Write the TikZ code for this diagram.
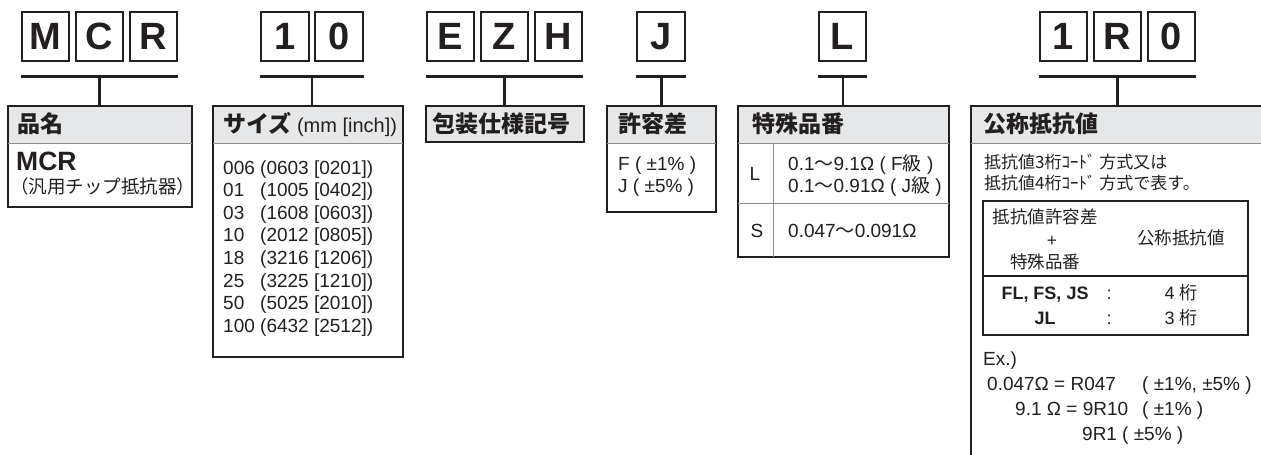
\documentclass[tikz,border=0pt]{standalone}
\usepackage{fontspec}
\setmainfont{Liberation Sans}
\newfontfamily\jp{Noto Sans CJK JP}
\usetikzlibrary{positioning}
\definecolor{inkline}{HTML}{231F20}
\definecolor{headgray}{HTML}{E6E7E8}
\definecolor{rulegray}{HTML}{8C8C8C}
\newcommand{\szcode}[1]{\makebox[37pt][l]{#1}}

\begin{document}
\begin{tikzpicture}[x=1pt, y=-1pt,
  letterbox/.style={draw=inkline, line width=2.2pt, minimum width=47.3pt, minimum height=48.8pt, inner sep=0pt, font=\fontsize{38}{38}\selectfont\bfseries, text=inkline},
  frame/.style={draw=inkline, line width=2.7pt, outer sep=0pt, inner sep=0pt, anchor=north west},
  headbar/.style={fill=headgray, outer sep=0pt, inner sep=0pt, minimum height=37pt, anchor=north west},
  barline/.style={inkline, line width=3pt},
  stemline/.style={inkline, line width=2.2pt},
  thinrule/.style={rulegray, line width=1pt},
  tabline/.style={draw=inkline, line width=1.2pt, outer sep=0pt, inner sep=0pt, anchor=north west},
  headtext/.style={font=\jp\bfseries\fontsize{23}{23}\selectfont, text=inkline, inner sep=0pt, anchor=base west},
  bodytext/.style={font=\fontsize{19}{19}\selectfont, text=inkline, inner sep=0pt, anchor=base west},
  smalljp/.style={font=\jp\fontsize{17.5}{17.5}\selectfont, text=inkline, inner sep=0pt, anchor=base}]
\useasboundingbox (0,0) rectangle (1261,455);
\clip (0,0) rectangle (1261,455);

% 品名
\node[letterbox] (lm) at (45.5,36.5) {M};
\node[letterbox, right=4.5pt of lm] (lc) {C};
\node[letterbox, right=4.5pt of lc] (lr) {R};
\coordinate (tp1) at (99.5,76);
\node[headbar, minimum width=184pt] (hd1) at (8,106) {};
\node[frame, minimum width=184pt, minimum height=101pt] (bx1) at (8,106) {};
\draw[thinrule] (hd1.south west) -- (hd1.south east);
\draw[barline] (lm.west |- tp1) -- (lr.east |- tp1);
\draw[stemline] (tp1) -- (tp1 |- bx1.north);
\node[headtext] (n1) at (17,132.5) {品名};
\node[bodytext, font=\fontsize{26.5}{26.5}\selectfont\bfseries] (mcr) at (16,170.5) {MCR};
\node[bodytext, font=\jp\fontsize{18.5}{18.5}\selectfont] (mcrjp) at (10,193) {（汎用チップ抵抗器）};

% サイズ
\node[letterbox] (l1a) at (285,36.5) {1};
\node[letterbox, right=4.5pt of l1a] (l0a) {0};
\coordinate (tp2) at (312,76);
\node[headbar, minimum width=190pt] (hd2) at (213,106) {};
\node[frame, minimum width=190pt, minimum height=251pt] (bx2) at (213,106) {};
\draw[thinrule] (hd2.south west) -- (hd2.south east);
\draw[barline] (l1a.west |- tp2) -- (l0a.east |- tp2);
\draw[stemline] (tp2) -- (tp2 |- bx2.north);
\node[headtext] (n2) at (223,132.5) {サイズ{\normalfont\fontsize{20}{20}\selectfont\ (mm [inch])}};
\node[bodytext] (sz1) at (223,174) {\szcode{006}(0603 [0201])};
\node[bodytext] (sz2) at (223,196.6) {\szcode{01}(1005 [0402])};
\node[bodytext] (sz3) at (223,219.2) {\szcode{03}(1608 [0603])};
\node[bodytext] (sz4) at (223,241.8) {\szcode{10}(2012 [0805])};
\node[bodytext] (sz5) at (223,264.4) {\szcode{18}(3216 [1206])};
\node[bodytext] (sz6) at (223,287) {\szcode{25}(3225 [1210])};
\node[bodytext] (sz7) at (223,309.6) {\szcode{50}(5025 [2010])};
\node[bodytext] (sz8) at (223,332.2) {\szcode{100}(6432 [2512])};

% 包装仕様記号
\node[letterbox] (le) at (450.5,36.5) {E};
\node[letterbox, right=4.5pt of le] (lz) {Z};
\node[letterbox, right=4.5pt of lz] (lh) {H};
\coordinate (tp3) at (504.5,76);
\node[headbar, minimum width=158pt, minimum height=36pt] (hd3) at (426,106) {};
\node[frame, minimum width=158pt, minimum height=36pt] (bx3) at (426,106) {};
\draw[barline] (le.west |- tp3) -- (lh.east |- tp3);
\draw[stemline] (tp3) -- (tp3 |- bx3.north);
\node[headtext] (n3) at (432,132.5) {包装仕様記号};

% 許容差
\node[letterbox] (lj) at (661,36.5) {J};
\coordinate (tp4) at (661.5,76);
\node[headbar, minimum width=109pt] (hd4) at (607,106) {};
\node[frame, minimum width=109pt, minimum height=106pt] (bx4) at (607,106) {};
\draw[thinrule] (hd4.south west) -- (hd4.south east);
\draw[barline] (lj.west |- tp4) -- (lj.east |- tp4);
\draw[stemline] (tp4) -- (tp4 |- bx4.north);
\node[headtext] (n4) at (618,132.5) {許容差};
\node[bodytext] (tolf) at (618,170) {F ( ±1\% )};
\node[bodytext] (tolj) at (618,192) {J ( ±5\% )};

% 特殊品番
\node[letterbox] (ll) at (842.5,36.5) {L};
\coordinate (tp5) at (843,76);
\node[headbar, minimum width=211pt] (hd5) at (738,106) {};
\node[frame, minimum width=211pt, minimum height=151pt] (bx5) at (738,106) {};
\draw[thinrule] (hd5.south west) -- (hd5.south east);
\coordinate (dv) at (773,203);
\draw[thinrule] (dv |- hd5.south) -- (dv |- bx5.south);
\draw[thinrule] (dv -| bx5.west) -- (dv -| bx5.east);
\draw[barline] (ll.west |- tp5) -- (ll.east |- tp5);
\draw[stemline] (tp5) -- (tp5 |- bx5.north);
\node[headtext] (n5) at (752,132.5) {特殊品番};
\node[bodytext, anchor=base] (spl) at (755,180) {L};
\node[bodytext, anchor=base] (sps) at (757,237) {S};
\node[bodytext] (splf) at (788,170) {0.1{\jp 〜}9.1Ω ( F{\jp 級} )};
\node[bodytext] (splj) at (788,192) {0.1{\jp 〜}0.91Ω ( J{\jp 級} )};
\node[bodytext] (spsv) at (788,237) {0.047{\jp 〜}0.091Ω};

% 公称抵抗値
\node[letterbox] (l1b) at (1063.5,36.5) {1};
\node[letterbox, right=4.5pt of l1b] (lrb) {R};
\node[letterbox, right=4.5pt of lrb] (l0b) {0};
\coordinate (tp6) at (1117.5,76);
\node[headbar, minimum width=320pt] (hd6) at (971,106) {};
\node[frame, minimum width=320pt, minimum height=374pt] (bx6) at (971,106) {};
\draw[thinrule] (hd6.south west) -- (hd6.south east);
\draw[barline] (l1b.west |- tp6) -- (l0b.east |- tp6);
\draw[stemline] (tp6) -- (tp6 |- bx6.north);
\node[headtext] (n6) at (983,132.5) {公称抵抗値};
\node[bodytext, font=\jp\fontsize{17}{17}\selectfont] (rv1) at (984,168.3) {抵抗値3桁ｺｰﾄﾞ 方式又は};
\node[bodytext, font=\jp\fontsize{17}{17}\selectfont] (rv2) at (984,189.3) {抵抗値4桁ｺｰﾄﾞ 方式で表す。};
\node[tabline, minimum width=265pt, minimum height=134pt] (tbl) at (983,201) {};
\coordinate (tsep) at (983,276);
\draw[tabline] (tsep) -- (tsep -| tbl.east);
\node[smalljp] (tq1) at (1045,223.5) {抵抗値許容差};
\node[smalljp, font=\fontsize{17.5}{17.5}\selectfont] (tq2) at (1052,246) {+};
\node[smalljp] (tq3) at (1045,268.5) {特殊品番};
\node[smalljp] (tq4) at (1181,244.5) {公称抵抗値};
\node[smalljp, font=\fontsize{18}{18}\selectfont\bfseries] (ta1) at (1045,299.3) {FL, FS, JS};
\node[smalljp, font=\fontsize{18}{18}\selectfont] (tc1) at (1109,299.3) {:};
\node[smalljp, font=\fontsize{18}{18}\selectfont] (tb1) at (1181,299.3) {4 {\jp 桁}};
\node[smalljp, font=\fontsize{18}{18}\selectfont\bfseries] (ta2) at (1045,324.3) {JL};
\node[smalljp, font=\fontsize{18}{18}\selectfont] (tc2) at (1109,324.3) {:};
\node[smalljp, font=\fontsize{18}{18}\selectfont] (tb2) at (1181,324.3) {3 {\jp 桁}};
\node[bodytext] (ex0) at (983,365) {Ex.)};
\node[bodytext] (ex1) at (987,390) {0.047Ω = R047};
\node[bodytext] (ex1t) at (1142,390) {( ±1\%, ±5\% )};
\node[bodytext] (ex2) at (1015,415) {9.1 Ω = 9R10};
\node[bodytext] (ex2t) at (1142,415) {( ±1\% )};
\node[bodytext] (ex3) at (1082,440) {9R1};
\node[bodytext] (ex3t) at (1122,440) {( ±5\% )};
\end{tikzpicture}
\end{document}
